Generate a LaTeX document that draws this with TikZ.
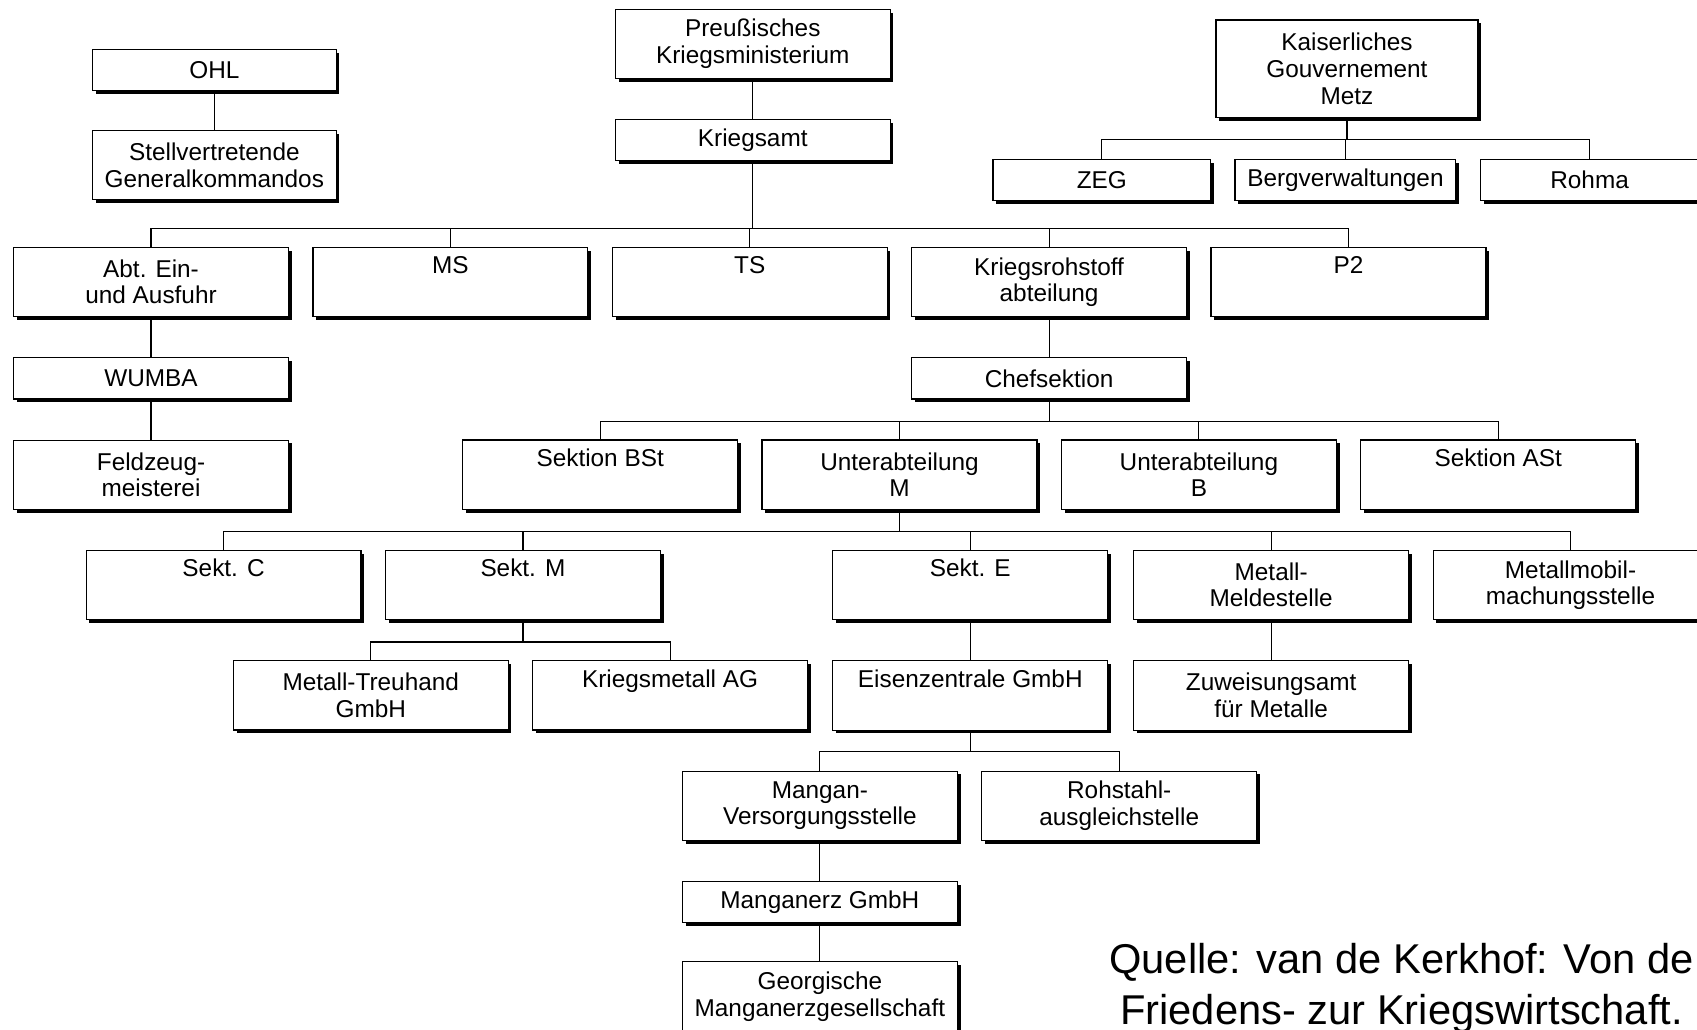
\documentclass[tikz,border=0pt]{standalone}
\usepackage{fontspec}
\setmainfont{Liberation Sans}
\usetikzlibrary{positioning, shadows}

\begin{document}
\begin{tikzpicture}[x=1pt, y=-1pt,
        node distance = 37pt and 21.5pt, % vertical and horizontal spacing
        unit/.style = {rectangle, draw, line width=1.1pt, fill=white, anchor=north west,
                       minimum width=254pt, minimum height=64pt, inner sep=0pt, align=center,
                       font=\fontsize{22.5}{24.5}\selectfont,
                       drop shadow={shadow xshift=3pt, shadow yshift=-3pt, fill=black, opacity=1}},
        % one-line boxes
        flat/.style = {minimum height=38pt},
        link/.style = {draw, line width=1.1pt}
    ]

    \useasboundingbox (0,0) rectangle (1568,951);
    \clip (0,0) rectangle (1568,951);

    % --- top row ---
    \node[unit, flat, minimum width=225pt] (ohl) at (85,45) {OHL};
    \node[unit, minimum width=225pt, below=36pt of ohl] (stv) {Stellvertretende\\Generalkommandos};

    \node[unit] (preuss) at (568,8) {Preußisches\\Kriegsministerium};
    \node[unit, flat, below=of preuss] (kamt) {Kriegsamt};

    \node[unit, minimum width=242pt, minimum height=90pt] (metz) at (1123,18) {Kaiserliches\\Gouvernement\\Metz};
    \node[unit, flat, minimum width=201pt] (zeg) at (917,147) {ZEG};
    \node[unit, flat, minimum width=204pt, right=of zeg] (berg) {Bergverwaltungen};
    \node[unit, flat, minimum width=202pt, right=of berg] (rohma) {Rohma};

    % --- Kriegsamt branches ---
    \node[unit] (abt) at (12,228) {Abt. Ein-\\und Ausfuhr};
    \node[unit, right=of abt] (ms) {MS\\\strut};
    \node[unit, right=of ms] (ts) {TS\\\strut};
    \node[unit, right=of ts] (kra) {Kriegsrohstoff\\abteilung};
    \node[unit, right=of kra] (ptwo) {P2\\\strut};

    \node[unit, flat, below=of abt] (wumba) {WUMBA};
    \node[unit, below=of wumba] (feld) {Feldzeug-\\meisterei};

    \node[unit, flat, below=of kra] (chef) {Chefsektion};

    % --- sections ---
    \node[unit] (bst) at (427,406) {Sektion BSt\\\strut};
    \node[unit, right=of bst] (uam) {Unterabteilung\\M};
    \node[unit, right=of uam] (uab) {Unterabteilung\\B};
    \node[unit, right=of uab] (ast) {Sektion ASt\\\strut};

    \node[unit] (sektc) at (79,508) {Sekt. C\\\strut};
    \node[unit, right=of sektc] (sektm) {Sekt. M\\\strut};
    \node[unit] (sekte) at (769,508) {Sekt. E\\\strut};
    \node[unit] (melde) at (1047,508) {Metall-\\Meldestelle};
    \node[unit, right=of melde] (mobil) {Metallmobil-\\machungsstelle};

    \node[unit] (treu) at (215,610) {Metall-Treuhand\\GmbH};
    \node[unit, right=of treu] (kmag) {Kriegsmetall AG\\\strut};
    \node[unit, below=of sekte] (eisen) {Eisenzentrale GmbH\\\strut};
    \node[unit, below=of melde] (zuw) {Zuweisungsamt\\für Metalle};

    % --- manganese chain ---
    \node[unit] (mvs) at (630,712) {Mangan-\\Versorgungsstelle};
    \node[unit, right=of mvs] (rohst) {Rohstahl-\\ausgleichstelle};
    \node[unit, flat, below=of mvs] (merz) {Manganerz GmbH};
    \node[unit, below=35pt of merz] (georg) {Georgische\\Manganerzgesellschaft};

    \node[font=\fontsize{38.5}{47}\selectfont, align=center] (quelle) at (1295,913)
        {Quelle: van de Kerkhof: Von de\\Friedens- zur Kriegswirtschaft.};

    % Connectors
    \draw[link] (ohl) -- (stv);
    \draw[link] (preuss) -- (kamt);

    \draw[link] (metz.south) -- ++(0,20) -| (zeg.north);
    \draw[link] (metz.south) -- ++(0,20) -| (berg.north);
    \draw[link] (metz.south) -- ++(0,20) -| (rohma.north);

    \draw[link] (kamt.south) -- ++(0,62) -| (abt.north);
    \draw[link] (kamt.south) -- ++(0,62) -| (ms.north);
    \draw[link] (kamt.south) -- ++(0,62) -| (ts.north);
    \draw[link] (kamt.south) -- ++(0,62) -| (kra.north);
    \draw[link] (kamt.south) -- ++(0,62) -| (ptwo.north);

    \draw[link] (abt) -- (wumba);
    \draw[link] (wumba) -- (feld);
    \draw[link] (kra) -- (chef);

    \draw[link] (chef.south) -- ++(0,20) -| (bst.north);
    \draw[link] (chef.south) -- ++(0,20) -| (uam.north);
    \draw[link] (chef.south) -- ++(0,20) -| (uab.north);
    \draw[link] (chef.south) -- ++(0,20) -| (ast.north);

    \draw[link] (uam.south) -- ++(0,20) -| (sektc.north);
    \draw[link] (uam.south) -- ++(0,20) -| (sektm.north);
    \draw[link] (uam.south) -- ++(0,20) -| (sekte.north);
    \draw[link] (uam.south) -- ++(0,20) -| (melde.north);
    \draw[link] (uam.south) -- ++(0,20) -| (mobil.north);

    \draw[link] (sektm.south) -- ++(0,20) -| (treu.north);
    \draw[link] (sektm.south) -- ++(0,20) -| (kmag.north);
    \draw[link] (sekte) -- (eisen);
    \draw[link] (melde) -- (zuw);

    \draw[link] (eisen.south) -- ++(0,19) -| (mvs.north);
    \draw[link] (eisen.south) -- ++(0,19) -| (rohst.north);
    \draw[link] (mvs) -- (merz);
    \draw[link] (merz) -- (georg);

\end{tikzpicture}
\end{document}
